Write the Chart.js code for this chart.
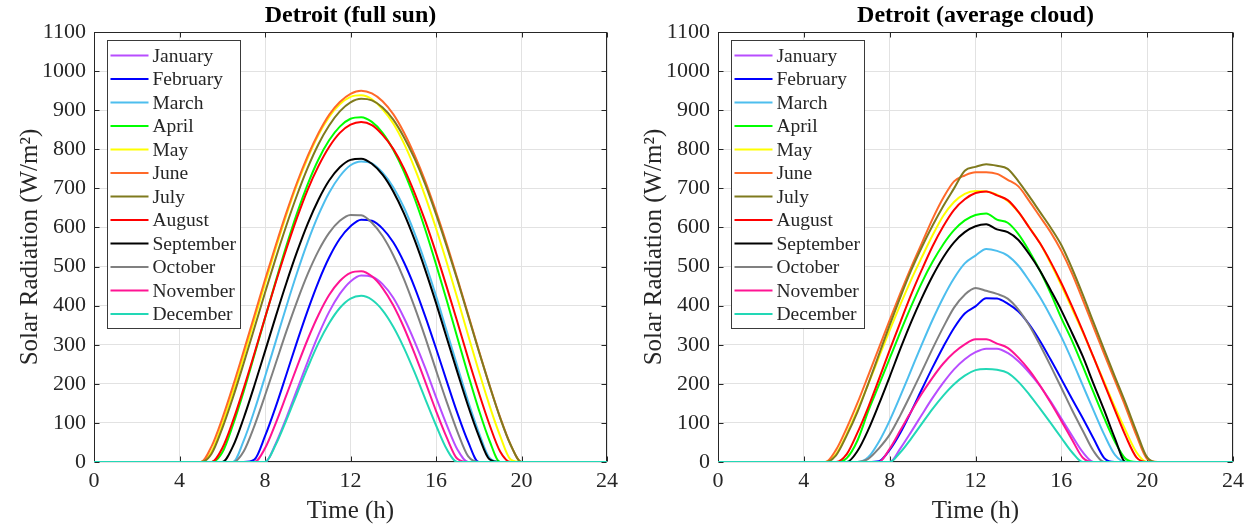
<!DOCTYPE html>
<html>
<head>
<meta charset="utf-8">
<script src="https://cdn.jsdelivr.net/npm/chart.js@4.4.1/dist/chart.umd.min.js"></script>
<style>
    html, body { margin: 0; padding: 0; background: #fff; }
    #wrap { position: relative; width: 1254px; height: 529px; }
    #sunChart { position: absolute; left: 0; top: 0; }
    #cloudChart { position: absolute; left: 624px; top: 0; }
</style>
</head>
<body>
<div id="wrap">
    <canvas id="sunChart" width="624" height="529"></canvas>
    <canvas id="cloudChart" width="630" height="529"></canvas>
</div>
<script>
// ===== DATOS =====
const hours = [0, 5, 5.5, 6, 6.5, 7, 7.5, 8, 8.5, 9, 9.5, 10, 10.5, 11, 11.5, 12, 12.5,
    13, 13.5, 14, 14.5, 15, 15.5, 16, 16.5, 17, 17.5, 18, 18.5, 19, 19.5, 20, 20.5, 24];

const months = ['January', 'February', 'March', 'April', 'May', 'June', 'July',
    'August', 'September', 'October', 'November', 'December'];

const monthColors = ['#b84dff', '#0000ff', '#4dbeee', '#00ff00', '#ffff00', '#ff6929',
    '#7f7a1e', '#ff0000', '#000000', '#808080', '#ff1493', '#22d8b6'];

const xTicks = [0, 4, 8, 12, 16, 20, 24];
const yTicks = [0, 100, 200, 300, 400, 500, 600, 700, 800, 900, 1000, 1100];

// full sun (W/m2)
const sunJan = [0, 0,0,0,0,0,0,0, 47,113,185,257,325,384,430,462,477,474,455,420,369,308,240,166,95,32, 0,0,0,0,0,0, 0, 0];
const sunFeb = [0, 0,0,0,0,0, 6, 66,141,224,308,388,461,523,571,603,620,617,597,562,511,447,372,291,207,125,52, 0,0,0,0,0, 0, 0];
const sunMar = [0, 0,0,0,0, 54,131,218,308,398,484,563,632,689,731,759,769,764,740,703,651,585,509,425,335,245,156,76,11, 0,0,0, 0, 0];
const sunApr = [0, 0,0, 24,95,180,273,368,462,553,637,711,774,823,858,878,882,870,842,799,743,674,594,506,414,318,224,134,55, 0,0,0, 0, 0];
const sunMay = [0, 0, 27,97,180,269,363,456,546,632,710,778,837,883,915,934,938,928,902,866,815,752,679,598,511,419,325,233,145,67,6, 0, 0, 0];
const sunJun = [0, 0, 40,111,194,283,374,466,554,638,715,783,841,888,921,942,950,943,923,890,843,785,718,641,558,469,378,286,197,114,43, 0, 0, 0];
const sunJul = [0, 0, 21,86,165,252,342,433,521,605,683,753,813,861,897,920,929,925,907,876,831,776,710,634,552,466,375,284,196,113,43, 0, 0, 0];
const sunAug = [0, 0,0, 35,105,188,277,369,459,545,625,697,757,806,842,863,870,862,837,801,751,688,616,535,448,358,266,178,96,27, 0,0, 0, 0];
const sunSep = [0, 0,0,0, 40,112,195,283,372,458,538,610,671,720,754,773,776,763,735,692,636,568,491,407,318,230,144,67,7, 0,0,0, 0, 0];
const sunOct = [0, 0,0,0,0, 27,92,170,252,334,411,481,540,586,617,632,631,612,578,529,468,396,318,235,154,78,15, 0,0,0,0,0, 0, 0];
const sunNov = [0, 0,0,0,0,0,0, 35,99,171,244,314,376,427,463,484,488,475,445,401,344,277,205,131,63,8, 0,0,0,0,0,0, 0, 0];
const sunDec = [0, 0,0,0,0,0,0,0, 44,107,175,242,304,355,394,418,425,415,388,346,292,229,161,94,33, 0,0,0,0,0,0,0, 0, 0];

// average cloud (W/m2)
const cldJan = [0, 0,0,0,0,0,0,0, 35,77,121,164,203,237,263,281,290,290,279,258,229,195,155,111,67,25, 0,0,0,0,0,0,0, 0];
const cldFeb = [0, 0,0,0,0,0, 2, 31,75,129,186,242,295,343,380,398,419,418,405,385,352,310,262,212,161,112,60,10, 0,0,0,0,0, 0];
const cldMar = [0, 0,0,0,0, 12,52,106,169,235,301,364,421,470,508,528,545,540,528,502,464,422,373,320,260,196,132,70,18, 0,0,0,0, 0];
const cldApr = [0, 0,0,10,55,130,197,265,333,398,459,512,557,593,618,632,636,620,612,583,540,490,432,368,310,245,178,112,52,8,0,0, 0, 0];
const cldMay = [0, 0,20,72,133,199,268,337,403,466,524,580,630,665,686,693,692,684,668,639,601,560,508,452,392,332,268,204,140,80,25,0, 0, 0];
const cldJun = [0, 0,31,87,151,221,292,363,432,498,560,622,676,718,733,741,741,737,722,705,668,628,588,540,482,415,345,276,208,140,68,8,0, 0];
const cldJul = [0, 0,17,68,128,200,275,350,422,490,550,605,655,700,745,755,762,758,750,718,680,640,600,555,495,428,357,287,218,150,78,12,0, 0];
const cldAug = [0, 0,0,20,75,140,212,286,358,428,492,552,603,645,672,688,692,682,670,640,600,560,512,458,398,335,268,200,132,66,12,0,0, 0];
const cldSep = [0, 0,0,0, 28,82,148,218,290,358,420,476,524,562,588,603,608,595,588,568,532,490,440,388,330,270,200,132,60, 0,0,0,0, 0];
const cldOct = [0, 0,0,0,0, 8,35,70,120,175,232,290,345,395,428,445,438,430,418,390,350,300,246,190,133,80,28, 0,0,0,0,0,0, 0];
const cldNov = [0, 0,0,0,0,0,0, 34,81,129,175,216,252,280,301,314,314,303,292,267,235,196,152,105,57,11, 0,0,0,0,0,0,0, 0];
const cldDec = [0, 0,0,0,0,0,0,0, 25,60,98,136,170,199,221,235,238,236,228,205,173,137,100,62,25, 0,0,0,0,0,0,0,0, 0];

const sunSeries = [sunJan, sunFeb, sunMar, sunApr, sunMay, sunJun, sunJul, sunAug, sunSep, sunOct, sunNov, sunDec];
const cloudSeries = [cldJan, cldFeb, cldMar, cldApr, cldMay, cldJun, cldJul, cldAug, cldSep, cldOct, cldNov, cldDec];

// ===== ESTILO =====
const SERIF = '"Liberation Serif", "Times New Roman", serif';
const AXIS_COLOR = '#262626';
const GRID_COLOR = '#e2e2e2';

Chart.defaults.font.family = SERIF;
Chart.defaults.color = AXIS_COLOR;

// caja de ejes estilo MATLAB, con marcas hacia dentro
const axesBox = {
    id: 'axesBox',
    beforeDatasetsDraw(chart) {
        const { ctx, chartArea, scales } = chart;
        const { left, top, right, bottom } = chartArea;
        const L = Math.round(left) + 0.5, R = Math.round(right) - 0.5;
        const T = Math.round(top) + 0.5, B = Math.round(bottom) - 0.5;
        ctx.save();
        ctx.strokeStyle = AXIS_COLOR;
        ctx.lineWidth = 1;
        ctx.beginPath();
        xTicks.forEach(v => {
            const px = Math.round(scales.x.getPixelForValue(v)) + 0.5;
            ctx.moveTo(px, B); ctx.lineTo(px, B - 5);
            ctx.moveTo(px, T); ctx.lineTo(px, T + 5);
        });
        yTicks.forEach(v => {
            const py = Math.round(scales.y.getPixelForValue(v)) + 0.5;
            ctx.moveTo(L, py); ctx.lineTo(L + 5, py);
            ctx.moveTo(R, py); ctx.lineTo(R - 5, py);
        });
        ctx.stroke();
        ctx.strokeRect(L, T, R - L, B - T);
        ctx.restore();
    }
};

// leyenda dentro del area del grafico
const insideLegend = {
    id: 'insideLegend',
    afterDatasetsDraw(chart) {
        const { ctx, chartArea } = chart;
        const rowH = 23.5;
        const bx = Math.round(chartArea.left + 13) + 0.5;
        const by = Math.round(chartArea.top + 8) + 0.5;
        ctx.save();
        ctx.font = `19.5px ${SERIF}`;
        const maxW = Math.max(...months.map(m => ctx.measureText(m).width));
        const bw = Math.round(46 + maxW + 4);
        const bh = Math.round(months.length * rowH + 6);
        ctx.fillStyle = '#ffffff';
        ctx.fillRect(bx, by, bw, bh);
        ctx.strokeStyle = '#3a3a3a';
        ctx.lineWidth = 1;
        ctx.strokeRect(bx, by, bw, bh);
        ctx.textBaseline = 'middle';
        ctx.textAlign = 'left';
        months.forEach((m, i) => {
            const cy = by + 15 + i * rowH;
            ctx.strokeStyle = monthColors[i];
            ctx.lineWidth = 2;
            ctx.beginPath();
            ctx.moveTo(bx + 3, cy);
            ctx.lineTo(bx + 41, cy);
            ctx.stroke();
            ctx.fillStyle = AXIS_COLOR;
            ctx.fillText(m, bx + 45, cy + 1);
        });
        ctx.restore();
    }
};

function panelTitle(text) {
    return {
        id: 'panelTitle',
        afterDraw(chart) {
            const { ctx, chartArea } = chart;
            ctx.save();
            ctx.font = `bold 24px ${SERIF}`;
            ctx.fillStyle = '#000000';
            ctx.textAlign = 'center';
            ctx.textBaseline = 'middle';
            ctx.fillText(text, (chartArea.left + chartArea.right) / 2, 16);
            ctx.restore();
        }
    };
}

function buildDatasets(series) {
    return series.map((vals, i) => ({
        label: months[i],
        data: hours.map((h, k) => ({ x: h, y: vals[k] })),
        borderColor: monthColors[i],
        backgroundColor: monthColors[i],
        borderWidth: 2,
        pointRadius: 0,
        fill: false,
        cubicInterpolationMode: 'monotone',
        order: series.length - i
    }));
}

function makeChart(canvasId, title, series, rightPad) {
    const canvas = document.getElementById(canvasId);
    return new Chart(canvas, {
        type: 'line',
        data: { datasets: buildDatasets(series) },
        options: {
            responsive: false,
            animation: false,
            devicePixelRatio: 1,
            layout: { padding: { left: 0, top: 32, right: rightPad, bottom: 0 } },
            plugins: {
                legend: { display: false },
                tooltip: { enabled: false }
            },
            scales: {
                x: {
                    type: 'linear',
                    min: 0, max: 24,
                    afterBuildTicks: s => { s.ticks = xTicks.map(v => ({ value: v })); },
                    ticks: { font: { size: 22 }, color: AXIS_COLOR, padding: 6, maxRotation: 0, autoSkip: false,
                        callback: v => String(v) },
                    grid: { color: GRID_COLOR, drawTicks: false },
                    border: { display: false },
                    title: { display: true, text: 'Time (h)', font: { size: 25 }, color: AXIS_COLOR, padding: { top: 0, bottom: 3 } },
                    afterFit: s => { s.height = 67; }
                },
                y: {
                    type: 'linear',
                    min: 0, max: 1100,
                    afterBuildTicks: s => { s.ticks = yTicks.map(v => ({ value: v })); },
                    ticks: { font: { size: 22 }, color: AXIS_COLOR, padding: 8, autoSkip: false,
                        callback: v => String(v) },
                    grid: { color: GRID_COLOR, drawTicks: false },
                    border: { display: false },
                    title: { display: true, text: 'Solar Radiation (W/m²)', font: { size: 25 }, color: AXIS_COLOR, padding: { top: 15, bottom: 0 } },
                    afterFit: s => { s.width = 94; }
                }
            }
        },
        plugins: [axesBox, insideLegend, panelTitle(title)]
    });
}

makeChart('sunChart', 'Detroit (full sun)', sunSeries, 15);
makeChart('cloudChart', 'Detroit (average cloud)', cloudSeries, 21);
</script>
</body>
</html>
